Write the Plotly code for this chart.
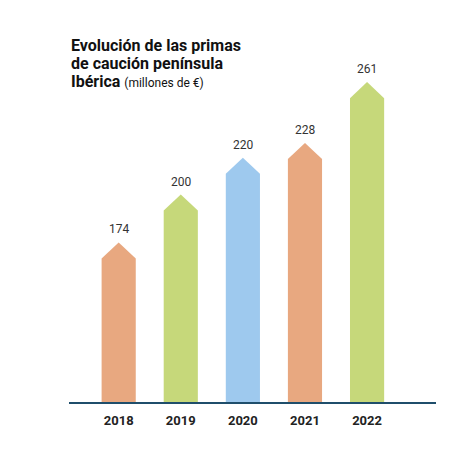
import plotly.graph_objects as go

# Primas de caución península Ibérica (millones de €)
years = ["2018", "2019", "2020", "2021", "2022"]
primas = [174, 200, 220, 228, 261]
colors = ["#E8A880", "#C6D87A", "#9EC9EE", "#E8A880", "#C6D87A"]

half_w = 0.275   # half bar width, in category units
tip = 8.7        # height of the arrow point, in value units
y_min = 87.4     # the axis does not start at zero in the original

fig = go.Figure()

for i, (yr, v, c) in enumerate(zip(years, primas, colors)):
    xs = [i - half_w, i - half_w, i, i + half_w, i + half_w, i - half_w]
    ys = [y_min - 20, v - tip, v, v - tip, y_min - 20, y_min - 20]
    fig.add_trace(go.Scatter(
        x=xs, y=ys, mode="lines", fill="toself", fillcolor=c,
        line=dict(width=0, color=c), hoverinfo="skip", showlegend=False,
    ))

# value labels above each arrow
for i, v in enumerate(primas):
    fig.add_annotation(
        x=i, y=v, text=str(v), showarrow=False, yanchor="bottom", yshift=4,
        font=dict(family="Roboto", size=12, color="#333333"),
    )

fig.update_xaxes(
    range=[-0.8, 5.11], tickvals=list(range(len(years))), ticktext=years,
    showgrid=False, zeroline=False, showline=True, linecolor="#1F4E6B", linewidth=1.5,
    tickfont=dict(family="Roboto", size=13, color="#222222", weight="bold"),
    ticks="", ticklabelstandoff=6, fixedrange=True,
)
fig.update_yaxes(
    range=[y_min, 273], visible=False, showgrid=False, zeroline=False, fixedrange=True,
)

title_lines = ["<b>Evolución de las primas</b>", "<b>de caución península</b>",
               "<b>Ibérica</b> <span style='font-size:12px;font-weight:normal'>(millones de €)</span>"]
for k, t in enumerate(title_lines):
    fig.add_annotation(
        text=t, xref="paper", yref="paper", x=0, xanchor="left",
        y=(394 - 49 - 18 * k) / 342, yanchor="bottom",
        showarrow=False, font=dict(family="Roboto", size=16, color="#111111"),
    )

fig.update_layout(
    width=451, height=449,
    margin=dict(l=61, r=23, t=52, b=55),
    paper_bgcolor="white", plot_bgcolor="white",
)

fig.write_html("out.html")
